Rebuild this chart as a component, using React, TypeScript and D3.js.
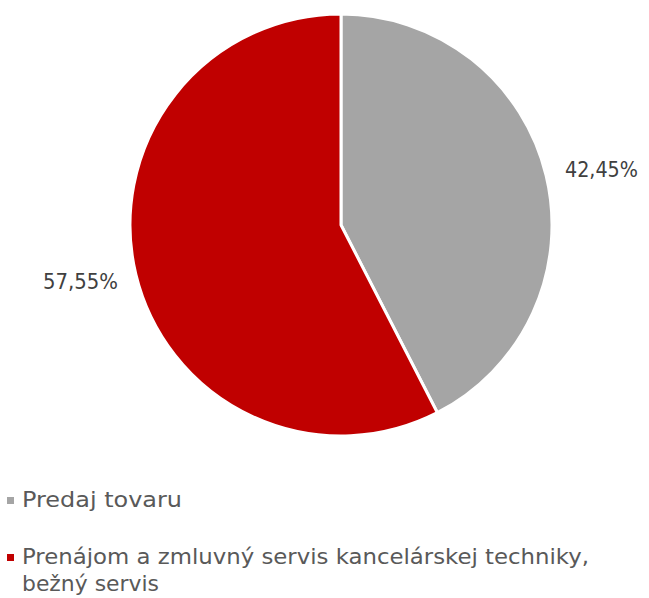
import React from "react";
import * as d3 from "d3";

const categories = ["Predaj tovaru", "Prenájom a zmluvný servis kancelárskej techniky, bežný servis"];
const values = [42.45, 57.55];
const labels = ["42,45%", "57,55%"];
const colors = ["#A5A5A5", "#C00000"];
const legendLines = [["Predaj tovaru"], ["Prenájom a zmluvný servis kancelárskej techniky,", "bežný servis"]];
const legendWidths = [[160], [567, 137]];
const labelWidths = [73, 75];

export default function App() {
  const W = 649, H = 598;
  const cx = 341, cy = 225, r = 211;
  const pie = d3.pie<number>().sort(null).value((d) => d)(values);
  const arc = d3.arc<d3.PieArcDatum<number>>().innerRadius(0).outerRadius(r);
  const labelArc = d3.arc<d3.PieArcDatum<number>>().innerRadius(268).outerRadius(268);
  const font = "'DejaVu Sans', sans-serif";
  const legendBase = [507, 564];
  return (
    <svg width={W} height={H} style={{ position: "absolute", left: 0, top: 0 }}>
      <g transform={`translate(${cx},${cy})`}>
        {pie.map((p, i) => (
          <path key={i} d={arc(p) || ""} fill={colors[i]} stroke="#fff" strokeWidth={3} strokeLinejoin="round" />
        ))}
        {pie.map((p, i) => {
          const [x, y] = labelArc.centroid(p);
          return (
            <text key={i} x={x} y={y * 0.885 + 8} textAnchor="middle" fontFamily={font} fontSize={22}
              fill="#404040" textLength={labelWidths[i]} lengthAdjust="spacingAndGlyphs">
              {labels[i]}
            </text>
          );
        })}
      </g>
      {categories.map((c, i) => (
        <g key={i}>
          <rect x={7} y={legendBase[i] - 10} width={7} height={7} fill={colors[i]} />
          {legendLines[i].map((ln, j) => (
            <text key={j} x={22} y={legendBase[i] + j * 27} fontFamily={font} fontSize={22} fill="#595959"
              textLength={legendWidths[i][j]} lengthAdjust="spacingAndGlyphs">
              {ln}
            </text>
          ))}
        </g>
      ))}
    </svg>
  );
}
